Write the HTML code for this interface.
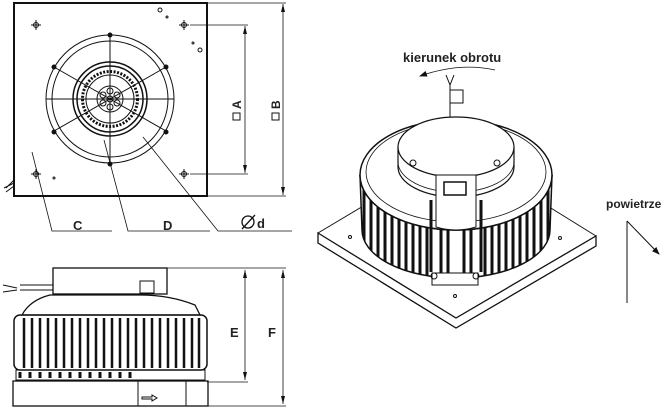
<!DOCTYPE html>
<html><head><meta charset="utf-8"><style>
html,body{margin:0;padding:0;background:#fff;width:668px;height:409px;overflow:hidden}
svg{display:block}
text{font-family:"Liberation Sans",sans-serif;font-weight:bold;fill:#222}
</style></head><body>
<svg width="668" height="409" viewBox="0 0 668 409" xmlns="http://www.w3.org/2000/svg" fill="none" stroke="#111" stroke-width="1">
<defs>
<marker id="ar" markerWidth="8" markerHeight="8" refX="7" refY="4" orient="auto" markerUnits="userSpaceOnUse"><path d="M0,1 L8,4 L0,7z" fill="#111" stroke="none"/></marker>
<clipPath id="fin"><path d="M360,175 A96,55 0 0 0 552,175 L550,230 A94,48 0 0 1 362,230 Z"/></clipPath>
</defs>
<!-- TOP VIEW -->
<rect x="14" y="3" width="193" height="193" stroke-width="2"/>
<g stroke-width="1">
<circle cx="110" cy="99" r="64"/>
<circle cx="110" cy="99" r="58"/>
<circle cx="110" cy="99" r="37" stroke-width="1.5"/>
<circle cx="110" cy="99" r="33" stroke-width="1.5"/>
<circle cx="110" cy="99" r="27.5" stroke-width="3" stroke-dasharray="2 1.5"/>
<circle cx="110" cy="99" r="24"/>
<circle cx="110" cy="99" r="13"/>
<circle cx="110" cy="99" r="3"/>
<circle cx="110" cy="91" r="3"/><circle cx="110" cy="107" r="3"/><circle cx="103" cy="95" r="3"/><circle cx="117" cy="95" r="3"/><circle cx="103" cy="103" r="3"/><circle cx="117" cy="103" r="3"/>
<line x1="110" y1="35" x2="110" y2="163"/><line x1="46" y1="99" x2="174" y2="99"/>
<line x1="54" y1="67" x2="166" y2="131"/><line x1="166" y1="67" x2="54" y2="131"/>
</g>
<g fill="#111" stroke="none">
<circle cx="110" cy="35" r="2.5"/><circle cx="110" cy="164" r="2.5"/>
<circle cx="54" cy="67" r="2.5"/><circle cx="166" cy="67" r="2.5"/><circle cx="54" cy="132" r="2.5"/><circle cx="166" cy="132" r="2.5"/>
</g>
<g stroke-width="1">
<circle cx="36" cy="25" r="2.5"/><path d="M31,25h10M36,20v10"/>
<circle cx="184" cy="25" r="2.5"/><path d="M179,25h10M184,20v10"/>
<circle cx="36" cy="174" r="2.5"/><path d="M31,174h10M36,169v10"/>
<circle cx="184" cy="174" r="2.5"/><path d="M179,174h10M184,169v10"/>
<circle cx="160" cy="10" r="2"/><circle cx="167" cy="17" r="1"/><circle cx="200" cy="50" r="2"/><circle cx="193" cy="43" r="1"/><circle cx="54" cy="178" r="1"/>
</g>
<path d="M14,180 l-8,8 M14,183 l-10,5 M14,186 l-8,6" />
<!-- dimensions -->
<line x1="207" y1="3" x2="286" y2="3" stroke-width=".7"/><line x1="207" y1="196" x2="286" y2="196" stroke-width=".7"/>
<line x1="190" y1="25" x2="248" y2="25" stroke-width=".7"/><line x1="190" y1="174" x2="248" y2="174" stroke-width=".7"/>
<line x1="245" y1="26" x2="245" y2="173" stroke-width=".8"/>
<line x1="283" y1="4" x2="283" y2="195" stroke-width=".8"/>
<path d="M245,26 l-2,8 h4z M245,173 l-2,-8 h4z M283,4 l-2,8 h4z M283,195 l-2,-8 h4z" fill="#111" stroke="none"/>
<g transform="translate(241,106) rotate(-90)"><rect x="-14" y="-8" width="7" height="7" stroke-width="1"/><text x="-3" y="0" font-size="12" stroke="none">A</text></g>
<g transform="translate(280,106) rotate(-90)"><rect x="-14" y="-8" width="7" height="7" stroke-width="1"/><text x="-3" y="0" font-size="12" stroke="none">B</text></g>
<path d="M32,152 L52,231 H112 M104,140 L128,231 H210 M143,137 L218,231 H292" stroke-width=".8"/>
<text x="73" y="230" font-size="13" stroke="none">C</text>
<text x="163" y="230" font-size="13" stroke="none">D</text>
<circle cx="248" cy="222" r="6" stroke-width="1.3"/><line x1="242" y1="229" x2="255" y2="215" stroke-width="1.3"/>
<text x="257" y="228" font-size="13" stroke="none">d</text>
<!-- SIDE VIEW -->
<rect x="53" y="268" width="114" height="26" stroke-width="1.3"/>
<path d="M20,290 H53 M20,285 H53 M3,285 l14,3 M3,292 l14,-2" stroke-width="1"/>
<path d="M22,315 Q30,300 50,295 H140 Q170,295 195,305 L200,315 Z" stroke-width="1.3"/>
<rect x="140" y="281" width="14" height="12"/>
<rect x="14" y="315" width="193" height="55" rx="6" stroke-width="1.5"/>
<g stroke-width="2.5">
<path d="M24,318v50M32,318v50M40,318v50M48,318v50M56,318v50M64,318v50M72,318v50M80,318v50M88,318v50M96,318v50M104,318v50M112,318v50M120,318v50M128,318v50M136,318v50M144,318v50M152,318v50M160,318v50M168,318v50M176,318v50M184,318v50M192,318v50M199,318v50"/>
</g>
<rect x="16" y="370" width="189" height="10" stroke-width="1"/>
<path d="M20,372v6M30,372v6M40,372v6M50,372v6M60,372v6M70,372v6M80,372v6M90,372v6M100,372v6M110,372v6M120,372v6M130,372v6" stroke-width="3"/>
<rect x="13" y="381" width="195" height="25" stroke-width="1.3"/>
<line x1="138" y1="381" x2="138" y2="406"/><line x1="186" y1="381" x2="186" y2="406"/>
<path d="M142,397 h10 v-2 l5,3 l-5,3 v-2 h-10z"/>
<line x1="167" y1="268" x2="286" y2="268" stroke-width=".7"/><line x1="207" y1="382" x2="248" y2="382" stroke-width=".7"/><line x1="208" y1="406" x2="286" y2="406" stroke-width=".7"/>
<line x1="245" y1="270" x2="245" y2="380" stroke-width=".8"/><line x1="283" y1="270" x2="283" y2="404" stroke-width=".8"/>
<path d="M245,270 l-2,8 h4z M245,380 l-2,-8 h4z M283,270 l-2,8 h4z M283,404 l-2,-8 h4z" fill="#111" stroke="none"/>
<text x="230" y="337" font-size="13" stroke="none">E</text>
<text x="268" y="337" font-size="13" stroke="none">F</text>
<!-- ISO VIEW -->
<text x="403" y="62" font-size="13" stroke="none">kierunek obrotu</text>
<path d="M495,70 Q460,62 420,76" marker-end="url(#ar)" stroke-width=".8"/>
<path d="M446,75 l4,10 l4,-10 M450,85 v32" />
<rect x="450" y="90" width="13" height="13"/>
<path d="M318,233 L456,318 L596,236 L596,246 L456,328 L318,243 Z" fill="#fff" stroke-width="1.3"/>
<path d="M318,233 L390,190 M596,236 L525,192"/>
<circle cx="350" cy="237" r="1.5"/><circle cx="560" cy="238" r="1.5"/><circle cx="455" cy="296" r="1.5"/>
<path d="M360,175 A96,55 0 0 0 552,175 L550,230 A94,48 0 0 1 362,230 Z" fill="#fff" stroke-width="1.5"/>
<g clip-path="url(#fin)" stroke-width="3">
<path d="M364,150v140M371,150v140M378,150v140M385,150v140M392,150v140M399,150v140M406,150v140M413,150v140M420,150v140M427,150v140M441,150v140M448,150v140M464,150v140M471,150v140M485,150v140M492,150v140M499,150v140M506,150v140M513,150v140M520,150v140M527,150v140M534,150v140M541,150v140M548,150v140"/>
</g>
<path d="M360,175 A96,55 0 0 0 552,175" stroke-width="1.5"/>
<ellipse cx="456" cy="175" rx="96" ry="55" fill="#fff" stroke-width="1.5"/>
<ellipse cx="456" cy="172" rx="90" ry="50" stroke-width=".8"/>
<path d="M398,147 V167 A58,30 0 0 0 514,167 V147" fill="#fff" stroke-width="1.2"/>
<path d="M398,162 A58,30 0 0 0 514,162" stroke-width=".8"/>
<ellipse cx="456" cy="147" rx="58" ry="30" fill="#fff" stroke-width="1.2"/>
<circle cx="413" cy="163" r="3"/><circle cx="497" cy="163" r="3"/>
<path d="M436,175 h40 v52 q-20,6 -40,0z" fill="#fff" stroke-width="1"/>
<rect x="444" y="182" width="22" height="13" stroke-width="1.5"/>
<path d="M431,200 v72 M481,200 v72" stroke-width="3"/>
<path d="M432,273 h46 v12 h-46z" fill="#fff" stroke-width="1"/>
<circle cx="434" cy="276" r="3"/><circle cx="476" cy="276" r="3"/>
<!-- powietrze -->
<text x="606" y="208" font-size="12" stroke="none">powietrze</text>
<line x1="627" y1="221" x2="627" y2="303" stroke-width="1"/>
<line x1="627" y1="221" x2="659" y2="254" marker-end="url(#ar)" stroke-width="1"/>
</svg>
</body></html>
